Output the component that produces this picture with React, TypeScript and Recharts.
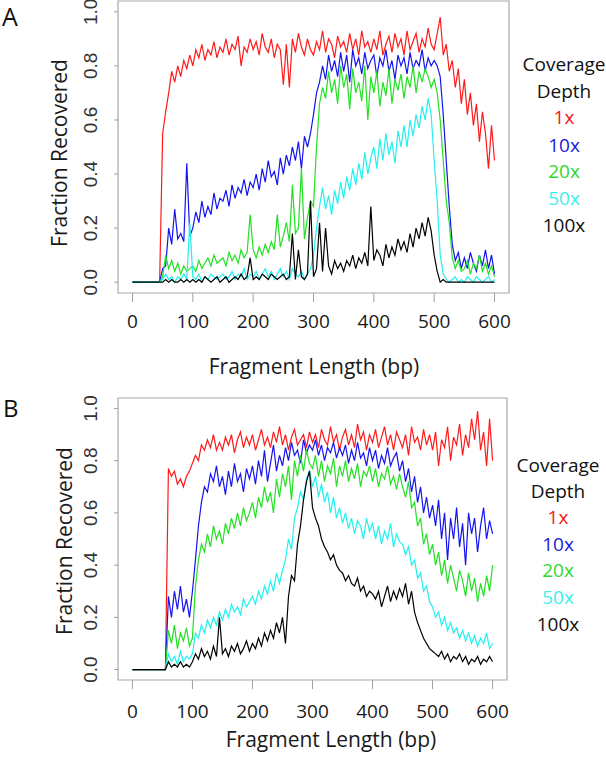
import { LineChart, Line, XAxis, YAxis, ReferenceArea } from "recharts";

// fragment length grid (bp), sampled every 5 bp
const BP = [
  0, 5, 10, 15, 20, 25, 30, 35, 40, 45,
  50, 55, 60, 65, 70, 75, 80, 85, 90, 95,
  100, 105, 110, 115, 120, 125, 130, 135, 140, 145,
  150, 155, 160, 165, 170, 175, 180, 185, 190, 195,
  200, 205, 210, 215, 220, 225, 230, 235, 240, 245,
  250, 255, 260, 265, 270, 275, 280, 285, 290, 295,
  300, 305, 310, 315, 320, 325, 330, 335, 340, 345,
  350, 355, 360, 365, 370, 375, 380, 385, 390, 395,
  400, 405, 410, 415, 420, 425, 430, 435, 440, 445,
  450, 455, 460, 465, 470, 475, 480, 485, 490, 495,
  500, 505, 510, 515, 520, 525, 530, 535, 540, 545,
  550, 555, 560, 565, 570, 575, 580, 585, 590, 595,
  600,
];

const X_TICKS = [0, 100, 200, 300, 400, 500, 600];
const Y_TICKS = [0, 0.2, 0.4, 0.6, 0.8, 1];
const DEPTHS = ["1x", "10x", "20x", "50x", "100x"];

// ---- panel A ----
const A_1X = [
  0, 0, 0, 0, 0, 0, 0, 0, 0, 0,
  0.55, 0.63, 0.7, 0.78, 0.74, 0.8, 0.76, 0.82, 0.79, 0.84,
  0.8, 0.86, 0.83, 0.88, 0.82, 0.86, 0.84, 0.89, 0.83, 0.87,
  0.85, 0.9, 0.84, 0.88, 0.86, 0.91, 0.8, 0.87, 0.85, 0.9,
  0.86, 0.89, 0.84, 0.92, 0.87, 0.85, 0.9, 0.83, 0.88, 0.86,
  0.73, 0.88, 0.72, 0.9, 0.85, 0.92, 0.87, 0.84, 0.9, 0.86,
  0.84, 0.89, 0.86, 0.93, 0.85, 0.9, 0.88, 0.83, 0.91, 0.87,
  0.89, 0.85, 0.92, 0.86, 0.9, 0.84, 0.93, 0.87, 0.89, 0.85,
  0.9, 0.86, 0.93, 0.84, 0.88, 0.91, 0.85, 0.92, 0.87, 0.9,
  0.84, 0.93, 0.86, 0.89, 0.92, 0.85, 0.9, 0.87, 0.94, 0.88,
  0.86, 0.92, 0.98, 0.84, 0.88, 0.78, 0.82, 0.72, 0.79, 0.66,
  0.75, 0.62, 0.7, 0.58, 0.66, 0.52, 0.63, 0.55, 0.42, 0.58,
  0.45,
];
const A_10X = [
  0, 0, 0, 0, 0, 0, 0, 0, 0, 0,
  0.05, 0.06, 0.2, 0.14, 0.27, 0.16, 0.18, 0.15, 0.44, 0.17,
  0.2, 0.26, 0.22, 0.3, 0.24, 0.28, 0.25, 0.33, 0.27, 0.31,
  0.3, 0.34, 0.28, 0.36, 0.31, 0.35, 0.33, 0.38, 0.32, 0.37,
  0.35, 0.4, 0.34, 0.42, 0.37, 0.45, 0.39, 0.41, 0.36, 0.46,
  0.4, 0.47, 0.43, 0.5, 0.45, 0.52, 0.42, 0.54, 0.5, 0.55,
  0.62, 0.7, 0.74, 0.8, 0.75, 0.84, 0.78, 0.82, 0.76, 0.85,
  0.78, 0.84, 0.74, 0.86, 0.8, 0.83, 0.77, 0.85, 0.79, 0.82,
  0.84, 0.76, 0.83, 0.8, 0.86, 0.78, 0.82, 0.75, 0.84, 0.8,
  0.83, 0.77, 0.85, 0.79, 0.82, 0.8, 0.86, 0.78, 0.83, 0.8,
  0.82, 0.8, 0.76, 0.62, 0.45, 0.28, 0.14, 0.08, 0.11, 0.05,
  0.09, 0.05, 0.11, 0.07, 0.04, 0.1, 0.06, 0.12, 0.05, 0.1,
  0.03,
];
const A_20X = [
  0, 0, 0, 0, 0, 0, 0, 0, 0, 0,
  0.02, 0.1, 0.05, 0.08, 0.04, 0.07, 0.03, 0.06, 0.04, 0.05,
  0.06, 0.04, 0.08, 0.05, 0.07, 0.09, 0.06, 0.1, 0.07, 0.08,
  0.09, 0.06, 0.11, 0.08, 0.1, 0.07, 0.12, 0.09, 0.11, 0.25,
  0.12, 0.09, 0.13, 0.1, 0.14, 0.11, 0.15, 0.12, 0.25, 0.13,
  0.17, 0.22, 0.15, 0.36, 0.18, 0.2, 0.42, 0.16, 0.24, 0.3,
  0.28, 0.5, 0.66, 0.72, 0.68, 0.78, 0.7, 0.75, 0.66, 0.8,
  0.72, 0.77, 0.64, 0.79, 0.7, 0.74, 0.67, 0.8, 0.6, 0.76,
  0.7, 0.78, 0.65, 0.74, 0.69, 0.79, 0.66, 0.75, 0.71, 0.77,
  0.68, 0.76, 0.72, 0.8, 0.7, 0.78, 0.74, 0.79, 0.76, 0.72,
  0.75, 0.7, 0.6, 0.45, 0.3, 0.22, 0.09, 0.05, 0.08, 0.04,
  0.05, 0.08, 0.03, 0.07, 0.05, 0.1, 0.04, 0.07, 0.03, 0.06,
  0.02,
];
const A_50X = [
  0, 0, 0, 0, 0, 0, 0, 0, 0, 0,
  0.01, 0.03, 0.01, 0.02, 0, 0.02, 0.01, 0.03, 0.01, 0.22,
  0.02, 0.01, 0.03, 0, 0.02, 0.01, 0.03, 0.02, 0.01, 0.02,
  0.03, 0.01, 0.02, 0.04, 0.01, 0.03, 0.02, 0.05, 0.01, 0.03,
  0.02, 0.04, 0.01, 0.03, 0.05, 0.02, 0.04, 0.01, 0.03, 0.05,
  0.02, 0.04, 0.01, 0.05, 0.03, 0.02, 0.04, 0.01, 0.03, 0.05,
  0.1, 0.2, 0.28, 0.35, 0.27, 0.32, 0.25, 0.34, 0.29, 0.37,
  0.31, 0.39, 0.34, 0.42, 0.36, 0.44, 0.38, 0.48, 0.4, 0.46,
  0.5, 0.42, 0.53, 0.45, 0.55, 0.47, 0.52, 0.44, 0.56, 0.5,
  0.58, 0.5, 0.6, 0.54, 0.62, 0.57, 0.65, 0.6, 0.68, 0.62,
  0.45, 0.3, 0.1, 0.03, 0.01, 0, 0.01, 0.02, 0, 0.01,
  0, 0.02, 0.01, 0, 0.02, 0.01, 0, 0.01, 0.02, 0,
  0.01,
];
const A_100X = [
  0, 0, 0, 0, 0, 0, 0, 0, 0, 0,
  0, 0.01, 0, 0.01, 0, 0, 0.01, 0, 0.01, 0,
  0.01, 0, 0.01, 0, 0.02, 0.01, 0, 0.01, 0.02, 0,
  0.01, 0.02, 0, 0.01, 0.02, 0.01, 0.03, 0.01, 0.02, 0.09,
  0.01, 0.02, 0.01, 0.03, 0.02, 0.01, 0.03, 0.02, 0.01, 0.02,
  0.03, 0.01, 0.02, 0.18, 0.01, 0.12, 0.02, 0.01, 0.03, 0.3,
  0.02, 0.05, 0.22, 0.04, 0.2, 0.06, 0.03, 0.08, 0.05, 0.07,
  0.04, 0.08, 0.06, 0.1, 0.05, 0.09, 0.07, 0.11, 0.06, 0.28,
  0.08, 0.12, 0.1, 0.06, 0.14, 0.09, 0.13, 0.1, 0.16, 0.12,
  0.15, 0.11, 0.18, 0.13, 0.2, 0.16, 0.22, 0.17, 0.24, 0.19,
  0.1, 0.04, 0, 0.01, 0, 0, 0, 0, 0, 0,
  0, 0, 0, 0, 0, 0, 0, 0, 0, 0,
  0,
];

// ---- panel B ----
const B_1X = [
  0, 0, 0, 0, 0, 0, 0, 0, 0, 0,
  0, 0, 0.77, 0.74, 0.76, 0.71, 0.73, 0.7, 0.74, 0.76,
  0.79, 0.82, 0.8, 0.86, 0.84, 0.88, 0.85, 0.9, 0.84, 0.87,
  0.84, 0.89, 0.86, 0.9, 0.83, 0.88, 0.91, 0.85, 0.89, 0.86,
  0.9, 0.84, 0.88, 0.92, 0.86, 0.89, 0.85, 0.91, 0.87, 0.93,
  0.86, 0.9, 0.84, 0.89, 0.92, 0.86, 0.88, 0.9, 0.85, 0.91,
  0.87, 0.9, 0.85, 0.92, 0.88, 0.86, 0.93, 0.87, 0.9, 0.84,
  0.89, 0.92, 0.86, 0.9, 0.85, 0.94, 0.88, 0.91, 0.84, 0.9,
  0.87, 0.92, 0.85, 0.89, 0.93, 0.86, 0.9, 0.84, 0.91, 0.88,
  0.85, 0.9, 0.82, 0.93, 0.87, 0.89, 0.84, 0.92, 0.86, 0.9,
  0.84, 0.91, 0.78, 0.88, 0.85, 0.93, 0.8, 0.89, 0.86, 0.94,
  0.82, 0.9, 0.85, 0.96, 0.88, 0.99, 0.84, 0.91, 0.78, 0.96,
  0.8,
];
const B_10X = [
  0, 0, 0, 0, 0, 0, 0, 0, 0, 0,
  0, 0, 0.28, 0.2, 0.3, 0.23, 0.32, 0.22, 0.27, 0.2,
  0.3, 0.42, 0.55, 0.64, 0.7, 0.68, 0.75, 0.72, 0.78, 0.7,
  0.74, 0.67, 0.76, 0.7, 0.79, 0.72, 0.75, 0.68, 0.77, 0.73,
  0.78, 0.71, 0.8, 0.74, 0.84, 0.72, 0.79, 0.86, 0.76, 0.82,
  0.78, 0.85, 0.8, 0.87, 0.82, 0.84, 0.79, 0.88, 0.83, 0.86,
  0.84, 0.88, 0.82, 0.86, 0.8, 0.85, 0.83, 0.87, 0.81, 0.85,
  0.82, 0.86, 0.79, 0.84, 0.8, 0.87, 0.81, 0.83, 0.78, 0.85,
  0.8, 0.84, 0.77, 0.82, 0.79, 0.85, 0.78, 0.81, 0.83, 0.76,
  0.8, 0.72, 0.77, 0.68, 0.74, 0.64, 0.7, 0.6, 0.66, 0.58,
  0.63, 0.55, 0.65, 0.5, 0.6, 0.42, 0.58, 0.5, 0.62, 0.47,
  0.56, 0.4, 0.6, 0.52, 0.58, 0.45, 0.55, 0.62, 0.5, 0.57,
  0.52,
];
const B_20X = [
  0, 0, 0, 0, 0, 0, 0, 0, 0, 0,
  0, 0, 0.15, 0.1, 0.17, 0.08, 0.14, 0.11, 0.16, 0.09,
  0.12, 0.32, 0.42, 0.48, 0.45, 0.52, 0.47, 0.55, 0.5, 0.53,
  0.48, 0.56, 0.52, 0.58, 0.54, 0.6, 0.55, 0.62, 0.57, 0.6,
  0.64, 0.58, 0.66, 0.62, 0.7, 0.64, 0.68, 0.6, 0.73, 0.66,
  0.75, 0.7, 0.78, 0.65, 0.8, 0.74, 0.82, 0.76, 0.84, 0.79,
  0.77, 0.82, 0.74, 0.8, 0.72, 0.78, 0.75, 0.81, 0.7, 0.78,
  0.74, 0.8, 0.72, 0.77, 0.73, 0.79, 0.7, 0.76, 0.74, 0.78,
  0.72, 0.77, 0.7, 0.75, 0.73, 0.78, 0.71, 0.74, 0.69, 0.75,
  0.7, 0.66, 0.72, 0.62, 0.64, 0.55, 0.58, 0.48, 0.52, 0.44,
  0.48, 0.4, 0.45, 0.36, 0.42, 0.33, 0.4, 0.35, 0.3, 0.38,
  0.34, 0.28, 0.37, 0.3, 0.35, 0.26, 0.33, 0.28, 0.36, 0.3,
  0.4,
];
const B_50X = [
  0, 0, 0, 0, 0, 0, 0, 0, 0, 0,
  0, 0, 0.06, 0.03, 0.05, 0.02, 0.07, 0.03, 0.05, 0.04,
  0.06, 0.14, 0.12, 0.17, 0.14, 0.19, 0.16, 0.2, 0.17, 0.22,
  0.19, 0.23, 0.2, 0.25, 0.22, 0.24, 0.21, 0.27, 0.24, 0.26,
  0.28, 0.25, 0.3, 0.27, 0.32, 0.29, 0.34, 0.3, 0.37, 0.33,
  0.38, 0.42, 0.5, 0.46, 0.58, 0.62, 0.68, 0.65, 0.73, 0.76,
  0.7, 0.74, 0.66, 0.71, 0.64, 0.68, 0.6, 0.66, 0.58, 0.62,
  0.56, 0.6, 0.54, 0.58, 0.52, 0.57, 0.55, 0.5, 0.58, 0.53,
  0.56, 0.5, 0.55, 0.48, 0.53, 0.5, 0.56, 0.47, 0.52, 0.49,
  0.48, 0.44, 0.47, 0.4, 0.42, 0.35, 0.37, 0.3, 0.32, 0.26,
  0.24, 0.2, 0.22, 0.17, 0.2, 0.15, 0.18, 0.14, 0.16, 0.12,
  0.15, 0.11, 0.14, 0.1, 0.13, 0.09, 0.12, 0.1, 0.14, 0.08,
  0.1,
];
const B_100X = [
  0, 0, 0, 0, 0, 0, 0, 0, 0, 0,
  0, 0, 0.03, 0.01, 0.02, 0.01, 0.03, 0.01, 0.02, 0.01,
  0.03, 0.06, 0.04, 0.08, 0.05, 0.07, 0.04, 0.09, 0.05, 0.2,
  0.06, 0.08, 0.05, 0.09, 0.07, 0.1, 0.06, 0.08, 0.11, 0.07,
  0.1, 0.08, 0.12, 0.09, 0.14, 0.11, 0.15, 0.12, 0.18, 0.14,
  0.2, 0.1, 0.28, 0.36, 0.34, 0.48, 0.55, 0.65, 0.72, 0.76,
  0.62, 0.58, 0.55, 0.5, 0.47, 0.45, 0.42, 0.44, 0.4, 0.38,
  0.37, 0.34, 0.36, 0.33, 0.32, 0.35, 0.3, 0.32, 0.28, 0.3,
  0.29, 0.27, 0.3, 0.24, 0.28, 0.32, 0.26, 0.3, 0.27, 0.31,
  0.28, 0.33, 0.25, 0.3, 0.22, 0.18, 0.15, 0.12, 0.1, 0.08,
  0.07, 0.06, 0.05, 0.07, 0.04, 0.06, 0.03, 0.05, 0.04, 0.06,
  0.03, 0.05, 0.02, 0.04, 0.03, 0.05, 0.02, 0.04, 0.03, 0.05,
  0.03,
];

const LINE_COLORS = ["#ff1a1a", "#1414f0", "#22e022", "#22f0f0", "#000000"];
const LEGEND_COLORS = ["#f01818", "#1a1ad8", "#2ed82e", "#3eeeee", "#111111"];
const KEYS = ["d1", "d10", "d20", "d50", "d100"];

const YTick = (props: any) => {
  const { x, y, payload } = props;
  const bx = x - 15;
  return (
    <text
      x={bx}
      y={y}
      transform={`rotate(-90 ${bx} ${y})`}
      textAnchor="middle"
      fontFamily="Liberation Sans, Arial, sans-serif"
      fontSize={19}
      fill="#333"
    >
      {Number(payload.value).toFixed(1)}
    </text>
  );
};

interface PanelProps {
  series: number[][];
  top: number;
  height: number;
  marginTop: number;
  marginBottom: number;
  right: number;
  tickMargin: number;
}

function Panel({ series, top, height, marginTop, marginBottom, right, tickMargin }: PanelProps) {
  const rows = BP.map((bp, i) => {
    const row: any = { bp };
    KEYS.forEach((k, j) => (row[k] = series[j][i]));
    return row;
  });
  return (
    <div style={{ position: "absolute", left: 0, top }}>
      <LineChart
        width={606}
        height={height}
        data={rows}
        margin={{ top: marginTop, right, bottom: marginBottom, left: 58 }}
      >
        <XAxis
          dataKey="bp"
          type="number"
          domain={[-24, 624]}
          ticks={X_TICKS}
          interval={0}
          allowDataOverflow
          axisLine={false}
          tickSize={9}
          tickMargin={tickMargin}
          tickLine={{ stroke: "#a0a0a0" }}
          tick={{ fontSize: 19, fontFamily: "Open Sans", fill: "#1a1a1a" }}
          height={40}
        />
        <YAxis
          type="number"
          domain={[-0.04, 1.04]}
          ticks={Y_TICKS}
          interval={0}
          allowDataOverflow
          axisLine={false}
          tickSize={4}
          tickMargin={2}
          tickLine={{ stroke: "#a0a0a0" }}
          tick={(p: any) => <YTick {...p} />}
          width={60}
        />
        <ReferenceArea
          x1={-24}
          x2={624}
          y1={-0.04}
          y2={1.04}
          fill="none"
          stroke="#a8a8a8"
          strokeWidth={1.2}
          ifOverflow="visible"
        />
        {KEYS.map((k, j) => (
          <Line
            key={k}
            type="linear"
            dataKey={k}
            stroke={LINE_COLORS[j]}
            strokeWidth={1.2}
            dot={false}
            activeDot={false}
            isAnimationActive={false}
          />
        ))}
      </LineChart>
    </div>
  );
}

const textBase: React.CSSProperties = {
  position: "absolute",
  fontFamily: "Open Sans",
  lineHeight: 1,
  whiteSpace: "nowrap",
};

function Legend({ cx, ys }: { cx: number; ys: number[] }) {
  const labels = ["Coverage", "Depth", ...DEPTHS];
  const colors = ["#111", "#111", ...LEGEND_COLORS];
  return (
    <>
      {labels.map((t, i) => (
        <div
          key={t}
          style={{
            ...textBase,
            fontSize: 19,
            left: cx - 60,
            width: 120,
            textAlign: "center",
            top: ys[i] - 10,
            color: colors[i],
          }}
        >
          {t}
        </div>
      ))}
    </>
  );
}

function YTitle({ cx, cy }: { cx: number; cy: number }) {
  return (
    <div
      style={{
        ...textBase,
        fontSize: 21,
        left: cx,
        top: cy,
        color: "#1a1a1a",
        transform: "translate(-50%, -50%) rotate(-90deg)",
      }}
    >
      Fraction Recovered
    </div>
  );
}

function XTitle({ cx, top }: { cx: number; top: number }) {
  return (
    <div
      style={{
        ...textBase,
        fontSize: 21,
        left: cx,
        top,
        color: "#1a1a1a",
        transform: "translateX(-50%)",
      }}
    >
      Fragment Length (bp)
    </div>
  );
}

export default function App() {
  return (
    <div
      style={{
        position: "absolute",
        left: 0,
        top: 0,
        width: 606,
        height: 757,
        background: "#fff",
        overflow: "hidden",
      }}
    >
      <Panel
        series={[A_1X, A_10X, A_20X, A_50X, A_100X]}
        top={0}
        height={380}
        marginTop={1}
        marginBottom={47}
        right={97}
        tickMargin={13}
      />
      <Panel
        series={[B_1X, B_10X, B_20X, B_50X, B_100X]}
        top={380}
        height={377}
        marginTop={18}
        marginBottom={37}
        right={99}
        tickMargin={16}
      />
      <div style={{ ...textBase, fontSize: 25, left: 2, top: 4, color: "#111" }}>A</div>
      <div style={{ ...textBase, fontSize: 24, left: 3, top: 396, color: "#111" }}>B</div>
      <YTitle cx={59} cy={153} />
      <YTitle cx={64} cy={541} />
      <XTitle cx={314} top={356} />
      <XTitle cx={331} top={729} />
      <Legend cx={564} ys={[65, 92, 118, 146, 172, 199, 226]} />
      <Legend cx={558} ys={[466, 492, 518, 545, 571, 598, 625]} />
    </div>
  );
}
